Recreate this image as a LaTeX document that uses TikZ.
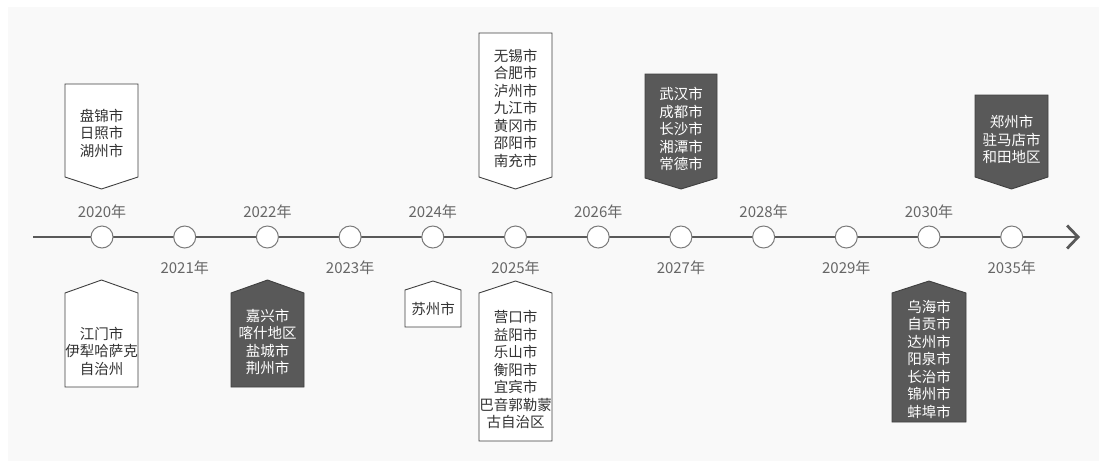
\documentclass[tikz,border=0pt]{standalone}
\usepackage{fontspec}
\newfontfamily\cjk{Noto Sans CJK SC}
\usetikzlibrary{arrows.meta}
\definecolor{panel}{HTML}{F9F9F9}
\definecolor{axiscol}{HTML}{595959}
\definecolor{dk}{HTML}{595959}
\definecolor{edge}{HTML}{404040}
\definecolor{yr}{HTML}{666666}
\definecolor{txt}{HTML}{333333}
\definecolor{ring}{HTML}{7A7A7A}
\tikzset{
  yearlbl/.style={font=\cjk\fontsize{15}{17}\selectfont, text=yr, inner sep=0pt},
  boxtxt/.style={font=\cjk\fontsize{14.5}{17.5}\selectfont, align=center, inner sep=0pt},
  lightbox/.style={draw=edge, fill=white, line width=0.9pt},
  darkbox/.style={draw=edge, fill=dk, line width=0.9pt},
  lighttxt/.style={boxtxt, text=txt},
  darktxt/.style={boxtxt, text=white},
  milestone/.style={circle, draw=ring, fill=white, line width=1pt, minimum size=22pt, inner sep=0pt},
  axisline/.style={draw=axiscol, line width=2.8pt},
}
% cx, halfwidth, top, side bottom, point, style
\newcommand\tlDownBox[6]{%
  \path[#6] (#1-#2,#3) -- (#1+#2,#3) -- (#1+#2,#4) -- (#1,#5) -- (#1-#2,#4) -- cycle;}
% cx, halfwidth, point, shoulder, bottom, style
\newcommand\tlUpBox[6]{%
  \path[#6] (#1,#3) -- (#1+#2,#4) -- (#1+#2,#5) -- (#1-#2,#5) -- (#1-#2,#4) -- cycle;}
\begin{document}
\begin{tikzpicture}[x=1pt,y=-1pt]
\useasboundingbox (0,0) rectangle (1099,461);
\fill[white] (0,0) rectangle (1099,461);
\fill[panel] (8,7) rectangle (1099,461);

% axis
\coordinate (tlstart) at (33,237);
\coordinate (tlend) at (1080,237);
\draw[axisline, -{Straight Barb[length=11pt,width=23pt]}] (tlstart) -- (tlend);

% milestones
\node[milestone] (m2020) at (102,237) {};
\node[milestone] (m2021) at (184.7,237) {};
\node[milestone] (m2022) at (267.4,237) {};
\node[milestone] (m2023) at (350.1,237) {};
\node[milestone] (m2024) at (432.8,237) {};
\node[milestone] (m2025) at (515.5,237) {};
\node[milestone] (m2026) at (598.2,237) {};
\node[milestone] (m2027) at (680.9,237) {};
\node[milestone] (m2028) at (763.6,237) {};
\node[milestone] (m2029) at (846.3,237) {};
\node[milestone] (m2030) at (929,237) {};
\node[milestone] (m2035) at (1011.7,237) {};

% year labels
\node[yearlbl] (y2020) at (102,212) {2020年};
\node[yearlbl] (y2021) at (184.7,268) {2021年};
\node[yearlbl] (y2022) at (267.4,212) {2022年};
\node[yearlbl] (y2023) at (350.1,268) {2023年};
\node[yearlbl] (y2024) at (432.8,212) {2024年};
\node[yearlbl] (y2025) at (515.5,268) {2025年};
\node[yearlbl] (y2026) at (598.2,212) {2026年};
\node[yearlbl] (y2027) at (680.9,268) {2027年};
\node[yearlbl] (y2028) at (763.6,212) {2028年};
\node[yearlbl] (y2029) at (846.3,268) {2029年};
\node[yearlbl] (y2030) at (929,212) {2030年};
\node[yearlbl] (y2035) at (1011.7,268) {2035年};

% upper boxes
\tlDownBox{101.5}{36.5}{84}{177}{189}{lightbox}
\node[lighttxt] (t2020) at (101.5,133) {盘锦市\\日照市\\湖州市};
\tlDownBox{515.5}{36.5}{33}{177}{189}{lightbox}
\node[lighttxt] (t2025) at (515.5,108) {无锡市\\合肥市\\泸州市\\九江市\\黄冈市\\邵阳市\\南充市};
\tlDownBox{681}{36}{74}{178}{189}{darkbox}
\node[darktxt] (t2027) at (681,129) {武汉市\\成都市\\长沙市\\湘潭市\\常德市};
\tlDownBox{1011.5}{36.5}{95}{177}{189}{darkbox}
\node[darktxt] (t2035) at (1011.5,139.5) {郑州市\\驻马店市\\和田地区};

% lower boxes
\tlUpBox{101.5}{36.5}{280}{293}{387}{lightbox}
\node[lighttxt] (b2020) at (101.5,351) {江门市\\伊犁哈萨克\\自治州};
\tlUpBox{267.5}{36.5}{280}{293}{387}{darkbox}
\node[darktxt] (b2022) at (267.5,342) {嘉兴市\\喀什地区\\盐城市\\荆州市};
\tlUpBox{433}{28}{281}{290}{327}{lightbox}
\node[lighttxt] (b2024) at (433,309) {苏州市};
\tlUpBox{515.5}{36.5}{281}{293}{441}{lightbox}
\node[lighttxt] (b2025) at (515.5,369.5) {营口市\\益阳市\\乐山市\\衡阳市\\宜宾市\\巴音郭勒蒙\\古自治区};
\tlUpBox{929}{37}{281}{293}{422}{darkbox}
\node[darktxt] (b2030) at (929,359) {乌海市\\自贡市\\达州市\\阳泉市\\长治市\\锦州市\\蚌埠市};
\end{tikzpicture}
\end{document}
